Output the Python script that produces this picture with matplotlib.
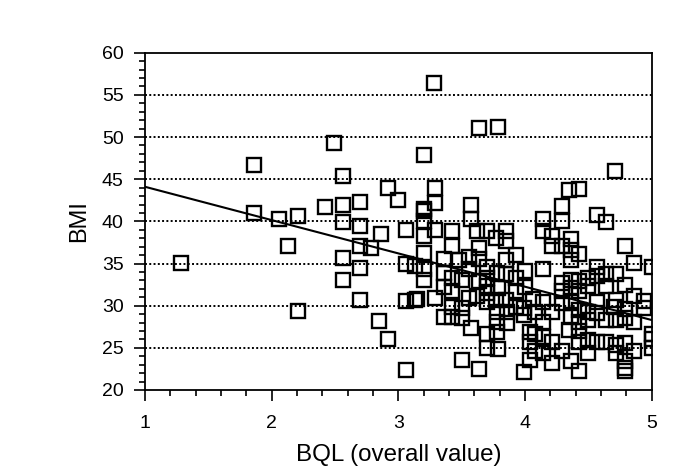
import numpy as np
from matplotlib import pyplot as plt
from matplotlib.ticker import MultipleLocator

plt.rcParams['font.family'] = ['Liberation Sans', 'DejaVu Sans']

# BQL (overall value) vs BMI
bql = [
    1.28, 1.86, 1.86, 2.06, 2.13, 2.21, 2.21, 2.42, 2.49, 2.56,
    2.56, 2.56, 2.56, 2.56, 2.70, 2.70, 2.70, 2.70, 2.70, 2.78,
    2.85, 2.86, 2.92, 2.92, 3.00, 3.06, 3.06, 3.06, 3.06, 3.13,
    3.13, 3.20, 3.28,
    3.79, 3.64, 3.20, 4.71,
    3.29, 3.29, 3.57, 3.20, 3.57, 3.20, 3.29, 3.42, 3.62, 3.70,
    3.77, 3.85, 3.20, 3.42, 3.85, 3.64, 3.20, 3.36, 3.56, 3.93,
    3.48, 3.64, 3.85, 3.20, 3.36, 3.56, 3.70, 4.00, 3.78, 3.20,
    3.42, 3.50, 3.64, 3.70, 3.85, 3.93, 3.36, 3.70, 3.79, 4.00,
    3.42, 3.70, 3.93, 3.15, 3.29, 3.56, 3.62, 3.77, 3.85, 4.06,
    3.42, 3.50, 3.70, 3.93, 3.99, 3.36, 3.42, 3.50, 3.78, 3.86,
    3.99, 3.78, 3.86, 3.57, 3.78, 3.70, 4.04, 4.04, 3.70, 3.79,
    3.50, 4.04, 3.64, 3.99,
    4.35, 4.43, 4.29, 4.29, 4.14, 4.57, 4.64, 4.14, 4.21, 4.36,
    4.21, 4.29, 4.36, 4.43, 4.36, 4.79, 4.14, 4.57, 4.86, 5.00,
    4.29, 4.36, 4.43, 4.50, 4.57, 4.64, 4.72, 4.29, 4.36, 4.43,
    4.50, 4.64, 4.79, 4.14, 4.29, 4.36, 4.57, 4.72, 4.86, 4.94,
    4.94, 4.08, 4.21, 4.43, 4.50, 4.57, 4.70, 4.79, 4.14, 4.36,
    4.43, 4.50, 4.64, 4.72, 4.79, 4.86, 4.35, 4.43, 5.00, 5.00,
    4.08, 4.14, 4.21, 4.43, 4.50, 4.57, 4.64, 4.72, 4.79, 4.86,
    5.00, 4.08, 4.14, 4.21, 4.29, 4.36, 4.50, 4.72, 4.79, 4.43,
    4.79, 4.79,
]
bmi = [
    35.1, 46.7, 41.0, 40.3, 37.1, 40.6, 29.4, 41.7, 49.3, 45.4,
    41.9, 39.9, 35.7, 33.0, 42.3, 39.4, 37.1, 34.5, 30.7, 36.9,
    28.2, 38.5, 43.9, 26.0, 42.5, 39.0, 35.0, 30.5, 22.4, 34.7,
    30.7, 47.9, 56.4,
    51.2, 51.1, 41.5, 46.0,
    43.9, 42.2, 42.0, 41.2, 40.3, 40.0, 39.0, 38.8, 38.8, 38.9,
    38.0, 38.8, 38.3, 37.1, 37.7, 36.8, 36.2, 35.5, 35.8, 36.0,
    35.4, 35.5, 35.4, 34.4, 33.9, 34.4, 34.6, 34.1, 33.9, 33.1,
    33.3, 33.1, 32.9, 33.3, 33.7, 33.3, 32.2, 32.3, 32.1, 32.2,
    31.7, 31.5, 31.7, 30.8, 30.9, 30.9, 31.1, 30.7, 30.7, 30.8,
    29.9, 29.7, 30.4, 29.9, 29.7, 28.7, 28.7, 28.5, 29.3, 29.3,
    28.9, 28.1, 27.9, 27.3, 26.9, 26.7, 26.9, 25.7, 25.0, 24.9,
    23.6, 23.6, 22.5, 22.1,
    43.7, 43.8, 41.8, 40.1, 40.3, 40.7, 39.9, 38.9, 38.3, 37.9,
    37.1, 37.1, 36.6, 36.1, 35.4, 37.1, 34.3, 34.6, 35.1, 34.6,
    32.7, 33.1, 32.9, 33.3, 33.5, 33.7, 33.7, 31.7, 32.1, 31.7,
    32.3, 32.3, 32.5, 30.4, 30.3, 30.5, 30.4, 30.7, 31.1, 30.5,
    29.7, 29.3, 29.3, 29.5, 29.3, 29.1, 29.9, 29.6, 28.1, 28.7,
    28.1, 28.3, 28.3, 28.3, 28.5, 28.1, 27.1, 27.0, 26.7, 26.1,
    26.7, 26.3, 25.7, 25.7, 25.9, 25.7, 25.7, 25.3, 25.6, 24.6,
    25.0, 24.6, 24.4, 23.2, 24.6, 23.4, 24.4, 24.4, 23.4, 22.2,
    22.6, 22.2,
]

# regression line end points
fit_x = [1, 5]
fit_y = [44.1, 28.3]

fig = plt.figure(figsize=(6.91, 4.71), dpi=100)
ax = fig.add_axes([0.21, 0.172, 0.733, 0.716])

for y in range(25, 60, 5):
    ax.axhline(y, color='black', linestyle=(0, (1, 1.2)), linewidth=1.4, zorder=1)

ax.plot(bql, bmi, linestyle='none', marker='s', markersize=9.5,
        markerfacecolor='none', markeredgecolor='black', markeredgewidth=1.7, zorder=3)
ax.plot(fit_x, fit_y, color='black', linewidth=1.5, zorder=2)

ax.set_xlim(1, 5)
ax.set_ylim(20, 60)
ax.xaxis.set_major_locator(MultipleLocator(1))
ax.xaxis.set_minor_locator(MultipleLocator(0.2))
ax.yaxis.set_major_locator(MultipleLocator(5))
ax.yaxis.set_minor_locator(MultipleLocator(1))

ax.tick_params(axis='x', which='major', direction='out', length=8, width=1.2, labelsize=14, pad=10)
ax.tick_params(axis='x', which='minor', direction='out', length=4.5, width=1.2)
ax.tick_params(axis='y', which='major', direction='out', length=8, width=1.2, labelsize=14, pad=7.5)
ax.tick_params(axis='y', which='minor', direction='out', length=4.5, width=1.2)

for s in ax.spines.values():
    s.set_linewidth(1.3)

ax.set_xlabel('BQL (overall value)', fontsize=17.4, labelpad=9)
ax.set_ylabel('BMI', fontsize=17, labelpad=8)

fig.savefig('out.png', dpi=100)
